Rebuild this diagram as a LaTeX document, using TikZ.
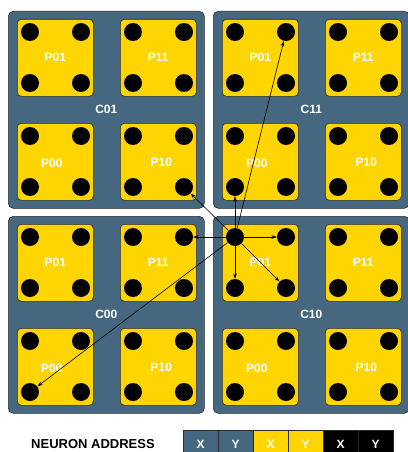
\documentclass[tikz,border=0pt]{standalone}
\usepackage{fontspec}
\setmainfont{Liberation Sans}
\usetikzlibrary{arrows.meta,positioning}
\definecolor{chipblue}{HTML}{45677F}
\definecolor{coregold}{HTML}{FFD500}
\definecolor{chipedge}{HTML}{2B2B2B}
\tikzset{
  cluster/.style={rectangle,rounded corners=5pt,draw=chipedge,line width=0.6pt,
                  fill=chipblue,minimum width=196pt,minimum height=197pt,
                  inner sep=0pt,anchor=north west,text=white,
                  font=\fontsize{12}{13}\selectfont\bfseries},
  proc/.style={rectangle,rounded corners=4pt,draw=chipedge,line width=0.6pt,
               fill=coregold,minimum width=76pt,minimum height=77pt,
               inner sep=0pt,anchor=north west},
  plabel/.style={text=white,font=\fontsize{12}{13}\selectfont\bfseries},
  neuron/.style={circle,fill=black,minimum size=18pt,inner sep=0pt},
  spike/.style={-{Stealth[length=5.5pt,width=3.6pt]},line width=0.6pt,draw=black},
  addr/.style={rectangle,draw=chipedge,line width=0.5pt,minimum width=34.5pt,
               minimum height=29pt,inner sep=0pt,text=white,
               font=\fontsize{12}{13}\selectfont\bfseries},
}

\begin{document}
\begin{tikzpicture}[x=1pt,y=-1pt]
  \useasboundingbox (0,0) rectangle (407,452);

  % clusters, processors and neurons
  \foreach \c/\cx/\cy in {01/8/11, 11/213/11, 00/8/216, 10/213/216} {
    \node[cluster] (C\c) at (\cx,\cy) {C\c};
    \foreach \p/\px/\py/\lx/\ly in {01/9/8/0/0, 11/112/8/0/0, 00/9/112/-3.5/-2, 10/112/112/3/-0.5} {
      \node[proc] (C\c-P\p) at ({\cx+\px},{\cy+\py}) {};
      \node[plabel,xshift=\lx pt,yshift=\ly pt] (C\c-P\p-lbl) at (C\c-P\p) {P\p};
      \foreach \n/\nx/\ny in {01/13/13, 11/64/13, 00/13/64, 10/64/64}
        \node[neuron] (C\c-P\p-n\n) at ({\cx+\px+\nx},{\cy+\py+\ny}) {};
    }
  }

  % spikes from the source neuron
  \draw[spike] (C10-P01-n01) -- (C10-P01-n11);
  \draw[spike] (C10-P01-n01) -- (C10-P01-n00);
  \draw[spike] (C10-P01-n01) -- (C10-P01-n10);
  \draw[spike] (C10-P01-n01) -- (C11-P00-n00);
  \draw[spike] (C10-P01-n01) -- (C11-P01-n11);
  \draw[spike] (C10-P01-n01) -- (C01-P10-n10);
  \draw[spike] (C10-P01-n01) -- (C00-P11-n11);
  \draw[spike] (C10-P01-n01) -- (C00-P00-n00);

  % address format
  \node[font=\fontsize{13}{14}\selectfont\bfseries] (addrlbl) at (93,444) {NEURON ADDRESS};
  \node[addr,fill=chipblue,anchor=north west] (cx) at (183,429.5) {X};
  \node[addr,fill=chipblue,right=0pt of cx] (cy) {Y};
  \node[addr,fill=coregold,right=0pt of cy] (px) {X};
  \node[addr,fill=coregold,right=0pt of px] (py) {Y};
  \node[addr,fill=black,right=0pt of py] (nx) {X};
  \node[addr,fill=black,right=0pt of nx] (ny) {Y};
\end{tikzpicture}
\end{document}
